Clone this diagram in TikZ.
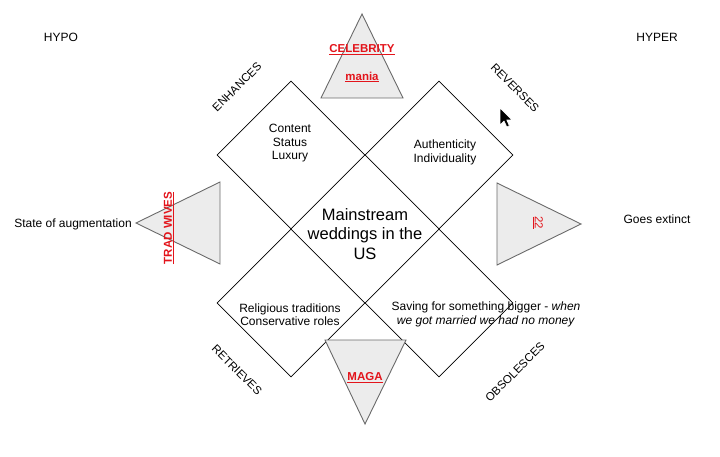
\documentclass[tikz,border=0pt]{standalone}
\usepackage{fontspec}
\setmainfont{Liberation Sans}
\usetikzlibrary{shapes.geometric}
\definecolor{trifill}{HTML}{ECECEC}
\definecolor{triline}{HTML}{6A6A6A}
\definecolor{redtxt}{HTML}{E3141B}
\tikzset{
  dia/.style={draw=black, diamond, minimum width=148pt, minimum height=148pt, inner sep=0pt, line width=0.8pt},
  trishape/.style={fill=trifill, draw=triline, line width=0.9pt, line join=miter},
  lbl/.style={font=\fontsize{12}{13.5}\selectfont, align=center, inner sep=0pt},
  edgelbl/.style={font=\fontsize{11.5}{13}\selectfont, inner sep=0pt},
  redlbl/.style={font=\fontsize{11.5}{13}\selectfont\bfseries, text=redtxt, inner sep=0pt},
}
\begin{document}
\begin{tikzpicture}[x=1pt,y=-1pt]
\useasboundingbox (0,0) rectangle (720,457);
% diamonds
\node[dia] (tl) at (291,155) {};
\node[dia] (tr) at (439,155) {};
\node[dia] (bl) at (291,303) {};
\node[dia] (br) at (439,303) {};
% triangles
\coordinate (ta) at (362,14);
\coordinate (tb1) at (321,98);
\coordinate (tb2) at (403,98);
\draw[trishape] (ta) -- (tb2) -- (tb1) -- cycle;
\coordinate (la) at (136,223);
\coordinate (lb1) at (220,182);
\coordinate (lb2) at (220,264);
\draw[trishape] (la) -- (lb1) -- (lb2) -- cycle;
\coordinate (ra) at (581,224);
\coordinate (rb1) at (497,183);
\coordinate (rb2) at (497,265);
\draw[trishape] (ra) -- (rb1) -- (rb2) -- cycle;
\coordinate (ba) at (365,424);
\coordinate (bb1) at (325,340);
\coordinate (bb2) at (406,340);
\draw[trishape] (ba) -- (bb1) -- (bb2) -- cycle;
% texts in diamonds
\node[lbl] (t1) at (290,143.5) {Content\\Status\\Luxury};
\node[lbl] (t2) at (445,152.5) {Authenticity\\Individuality};
\node[lbl] (t3) at (290,314.5) {Religious traditions\\Conservative roles};
\node[lbl] (t4) at (486,314.5) {Saving for something bigger - \textit{when}\\\textit{we got married we had no money}};
\node[font=\fontsize{16.5}{19.5}\selectfont, align=center, inner sep=0pt] (center) at (365,234) {Mainstream\\weddings in the\\US};
% triangle labels
\node[redlbl] (celeb) at (362,50) {\underline{CELEBRITY}};
\node[redlbl] (mania) at (362,77) {\underline{mania}};
\node[redlbl, rotate=90] (trad) at (169,228) {\underline{TRAD WIVES}};
\node[redlbl, rotate=-90, font=\fontsize{11.5}{13}\selectfont] (tt) at (538,223) {\underline{22}};
\node[redlbl] (maga) at (365,378) {\underline{MAGA}};
% side labels
\node[lbl] (aug) at (73,224) {State of augmentation};
\node[lbl] (ext) at (657,219) {Goes extinct};
\node[lbl] (hypo) at (61,37) {HYPO};
\node[lbl] (hyper) at (657,37) {HYPER};
\node[edgelbl, rotate=45] (enh) at (237,87) {ENHANCES};
\node[edgelbl, rotate=-45] (rev) at (515,88) {REVERSES};
\node[edgelbl, rotate=-45] (ret) at (237,370) {RETRIEVES};
\node[edgelbl, rotate=45] (obs) at (515,372) {OBSOLESCES};
% cursor
\coordinate (cur) at (500,108);
\draw[fill=black, draw=white, line width=0.7pt, line join=round, shift={(cur)}]
  (0,0) -- (0,17) -- (4,13) -- (6.8,19) -- (9.4,17.8) -- (6.8,12) -- (12,12) -- cycle;
\end{tikzpicture}
\end{document}
